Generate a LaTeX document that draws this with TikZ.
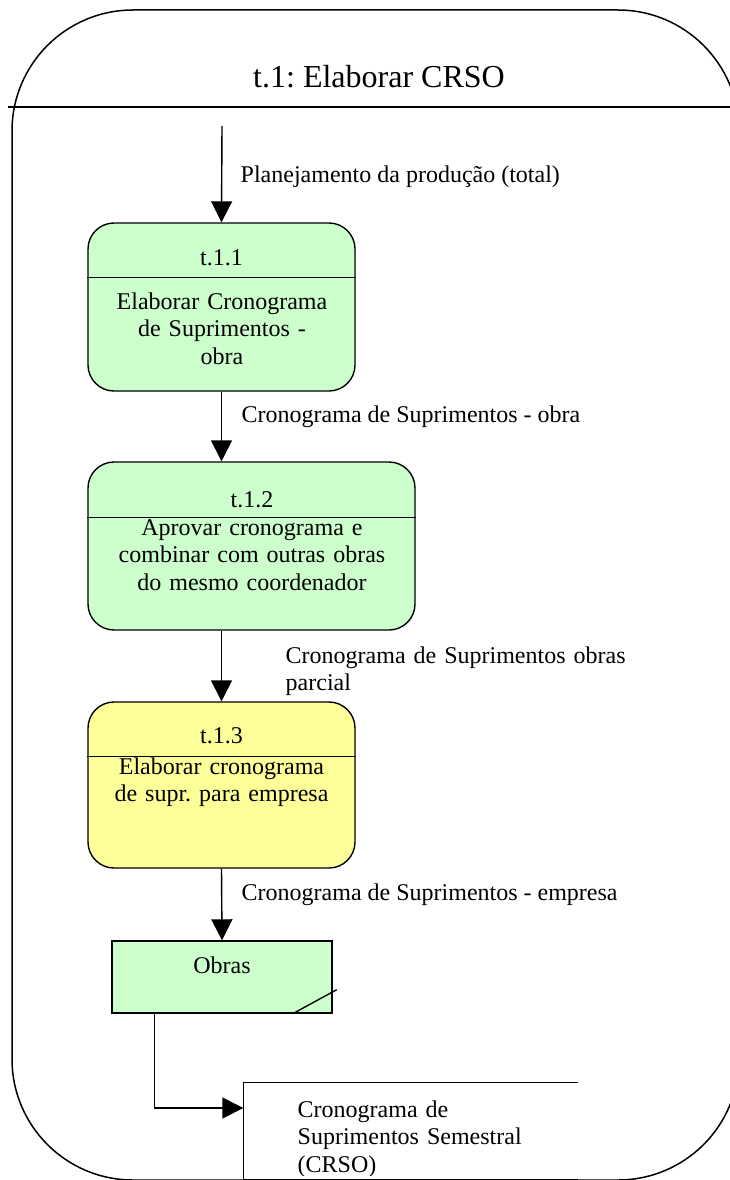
\documentclass[tikz,border=0pt]{standalone}
\usepackage{fontspec}
\setmainfont{Liberation Serif}
\usetikzlibrary{arrows.meta}
\definecolor{procgreen}{HTML}{CCFFCC}
\definecolor{procyellow}{HTML}{FFFF99}
\frenchspacing

\begin{document}
\begin{tikzpicture}[x=1pt, y=-1pt, line width=1.4pt,
  body/.style={font=\fontsize{24}{27.5}\selectfont, inner sep=0pt},
  proc/.style={draw, rounded corners=26pt, inner sep=0pt},
  flow/.style={-{Triangle[length=21pt,width=21pt]}},
]
\useasboundingbox (0,0) rectangle (730,1180);
\clip (0,0) rectangle (730,1180);

% outer process frame and its title band
\draw[line width=1.5pt, rounded corners=121pt] (12,10) rectangle (739,1180);
\coordinate (tl) at (8,107);
\coordinate (tr) at (730,107);
\draw (tl) -- (tr);
\node[font=\fontsize{32}{38}\selectfont, inner sep=0pt, anchor=base] (title) at (379,88) {t.1: Elaborar CRSO};

% sub-process t.1.1
\node[proc, fill=procgreen, minimum width=267pt, minimum height=168pt] (p1) at (221.5,307) {};
\draw ([yshift=-55pt]p1.north west) -- ([yshift=-55pt]p1.north east);
\node[body, anchor=base] (p1id) at (221.5,265) {t.1.1};
\node[body, anchor=base, text width=260pt, align=center] (p1txt) at (222,309)
  {Elaborar Cronograma\\de Suprimentos -\\obra};

% sub-process t.1.2
\node[proc, fill=procgreen, minimum width=327pt, minimum height=168pt] (p2) at (251.5,546) {};
\draw ([yshift=-56pt]p2.north west) -- ([yshift=-56pt]p2.north east);
\node[body, anchor=base] (p2id) at (252,507) {t.1.2};
\node[body, anchor=base, text width=320pt, align=center] (p2txt) at (252,535)
  {Aprovar cronograma e\\combinar com outras obras\\do mesmo coordenador};

% sub-process t.1.3
\node[proc, fill=procyellow, minimum width=267pt, minimum height=166pt] (p3) at (221.5,785) {};
\draw ([yshift=-55pt]p3.north west) -- ([yshift=-55pt]p3.north east);
\node[body, anchor=base] (p3id) at (221.5,743) {t.1.3};
\node[body, anchor=base, text width=260pt, align=center] (p3txt) at (221.5,774)
  {Elaborar cronograma\\de supr. para empresa};

% external entity Obras
\node[draw, fill=procgreen, minimum width=220pt, minimum height=72pt, inner sep=0pt] (obras) at (222,977) {};
\node[body, anchor=base] (obrastxt) at (222,973) {Obras};
\draw ([xshift=-40pt]obras.south east) -- ([xshift=4pt,yshift=24pt]obras.south east);

% data store CRSO (open on the right)
\node[minimum width=333pt, minimum height=96pt, inner sep=0pt] (crso) at (410.5,1131) {};
\draw (crso.north east) -- (crso.north west) -- (crso.south west) -- (crso.south east);
\begin{scope}
  \clip (crso.north west) rectangle ([yshift=4pt]crso.south east);
  \node[body, anchor=base west, text width=300pt, align=left] (crsotxt) at (297,1117)
    {Cronograma de\\Suprimentos Semestral\\(CRSO)};
\end{scope}

% flows
\coordinate (start) at (222,126);
\draw[flow] (start) -- (p1.north);
\draw[flow] (p1.south) -- (p1.south |- p2.north);
\draw[flow] (p3.north |- p2.south) -- (p3.north);
\draw[flow] (p3.south) -- (obras.north);
\draw[flow] ([xshift=43pt]obras.south west) |- ([yshift=23pt]crso.west);

% flow labels
\node[body, anchor=base west] (l1) at (240,182) {Planejamento da produção (total)};
\node[body, anchor=base west] (l2) at (241,422) {Cronograma de Suprimentos - obra};
\node[body, anchor=base west, text width=400pt, align=left] (l3) at (285,663)
  {Cronograma de Suprimentos obras\\parcial};
\node[body, anchor=base west] (l4) at (241,900) {Cronograma de Suprimentos - empresa};
\end{tikzpicture}
\end{document}
